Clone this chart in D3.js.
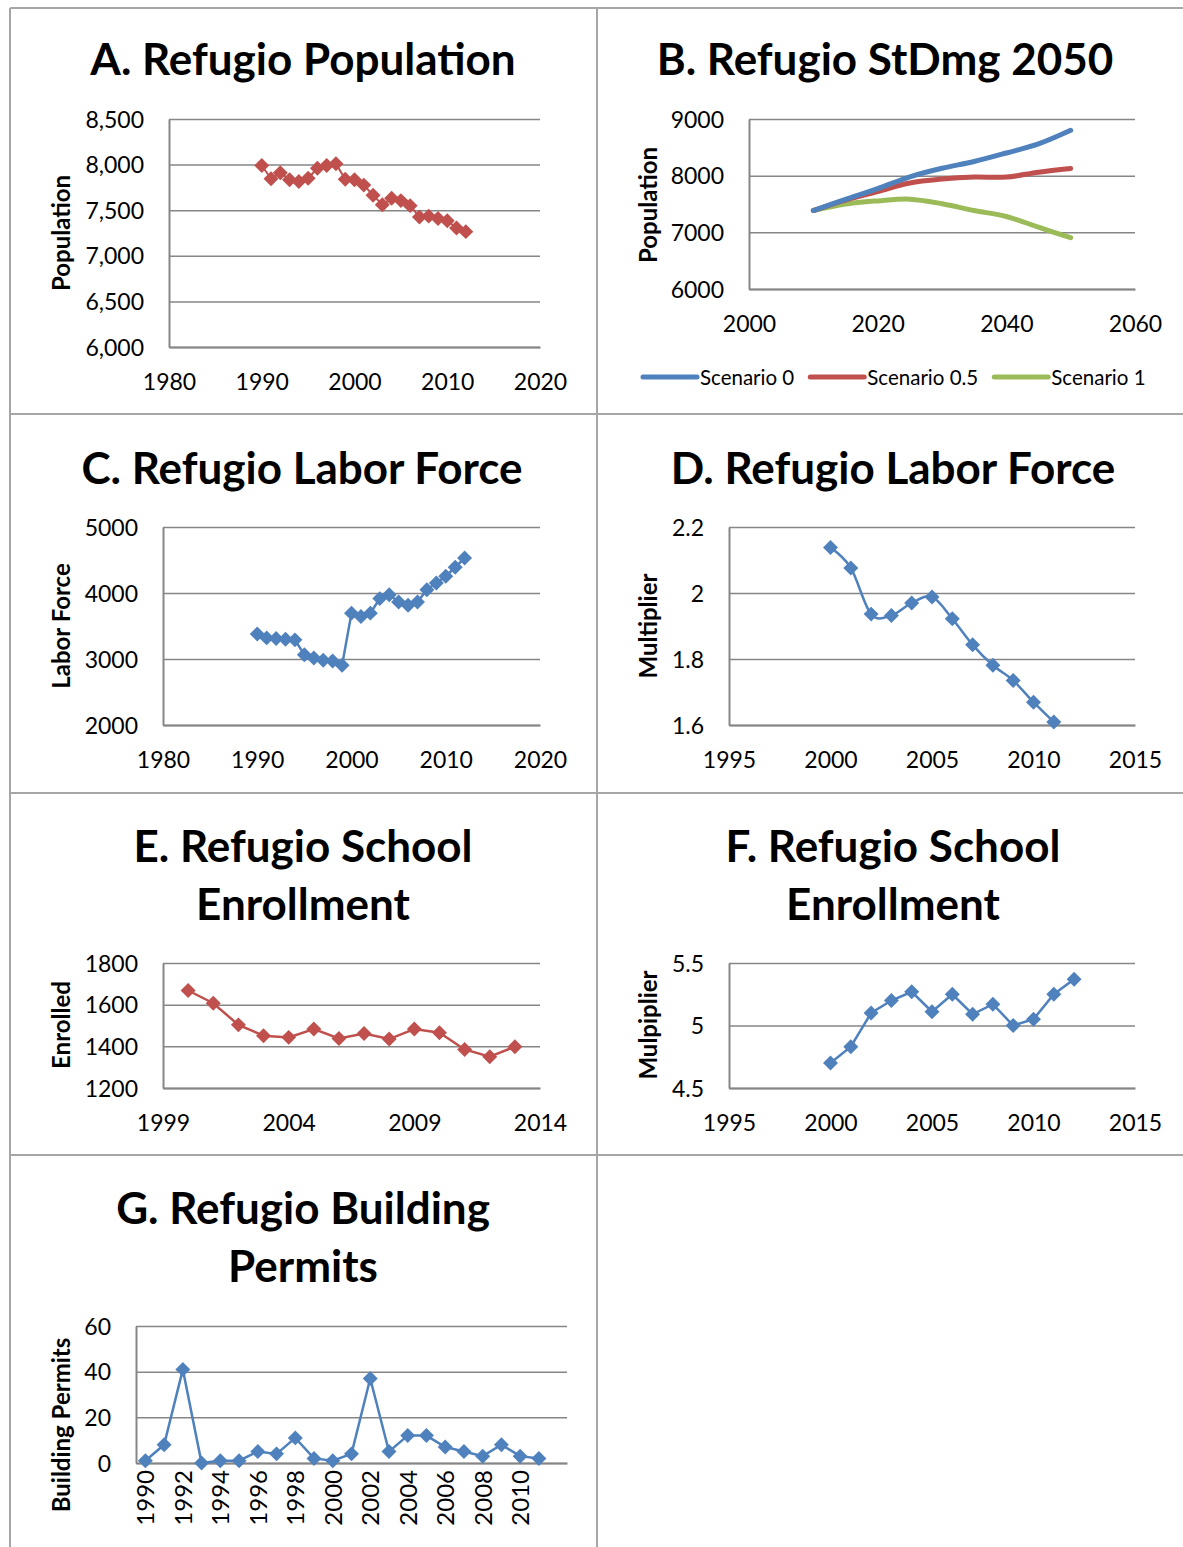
<!DOCTYPE html>
<html>
<head>
<meta charset="utf-8">
<script src="https://cdn.jsdelivr.net/npm/d3@7"></script>
<style>
  body { margin: 0; background: #fff; }
  svg { display: block; font-family: Lato, "Open Sans", sans-serif; }
</style>
</head>
<body>
<div id="chart"></div>
<script>
// A. population, 1990-2012
var popYears = [1990, 1991, 1992, 1993, 1994, 1995, 1996, 1997, 1998, 1999, 2000, 2001, 2002, 2003, 2004, 2005, 2006, 2007, 2008, 2009, 2010, 2011, 2012];
var popValues = [7990, 7845, 7910, 7835, 7815, 7850, 7960, 7990, 8010, 7840, 7835, 7775, 7665, 7560, 7630, 7605, 7550, 7425, 7435, 7410, 7385, 7305, 7265];

// B. projections to 2050
var scenYears = [2010, 2015, 2020, 2025, 2030, 2035, 2040, 2045, 2050];
var scenNames = ["Scenario 0", "Scenario 0.5", "Scenario 1"];
var scen0 = [7385, 7580, 7770, 7980, 8130, 8250, 8400, 8560, 8800];
var scen05 = [7385, 7570, 7720, 7870, 7940, 7975, 7975, 8060, 8125];
var scen1 = [7385, 7500, 7555, 7585, 7505, 7385, 7280, 7090, 6905];

// C. labor force
var laborYears = [1990, 1991, 1992, 1993, 1994, 1995, 1996, 1997, 1998, 1999, 2000, 2001, 2002, 2003, 2004, 2005, 2006, 2007, 2008, 2009, 2010, 2011, 2012];
var laborValues = [3380, 3320, 3310, 3300, 3290, 3065, 3015, 2980, 2970, 2905, 3695, 3645, 3695, 3915, 3975, 3865, 3815, 3865, 4050, 4150, 4255, 4390, 4530];

// D. labor force multiplier
var laborMultYears = [2000, 2001, 2002, 2003, 2004, 2005, 2006, 2007, 2008, 2009, 2010, 2011];
var laborMultValues = [2.138, 2.076, 1.936, 1.932, 1.970, 1.988, 1.922, 1.843, 1.781, 1.735, 1.669, 1.609];

// E. school enrollment
var enrollYears = [2000, 2001, 2002, 2003, 2004, 2005, 2006, 2007, 2008, 2009, 2010, 2011, 2012, 2013];
var enrollValues = [1668, 1607, 1503, 1451, 1443, 1483, 1438, 1462, 1435, 1483, 1465, 1385, 1350, 1398];

// F. enrollment multiplier
var enrollMultYears = [2000, 2001, 2002, 2003, 2004, 2005, 2006, 2007, 2008, 2009, 2010, 2011, 2012];
var enrollMultValues = [4.70, 4.83, 5.10, 5.20, 5.27, 5.11, 5.25, 5.09, 5.17, 5.00, 5.05, 5.25, 5.37];

// G. building permits
var permitYears = [1990, 1991, 1992, 1993, 1994, 1995, 1996, 1997, 1998, 1999, 2000, 2001, 2002, 2003, 2004, 2005, 2006, 2007, 2008, 2009, 2010, 2011];
var permitValues = [1, 8, 41, 0, 1, 1, 5, 4, 11, 2, 1, 4, 37, 5, 12, 12, 7, 5, 3, 8, 3, 2];
var permitTicks = [1990, 1992, 1994, 1996, 1998, 2000, 2002, 2004, 2006, 2008, 2010];

var blue = "#4f81bd", red = "#c0504d", green = "#9bbb59";
var gridColor = "#868686";

var width = 1183, height = 1547;

var svg = d3.select("#chart")
  .append("svg")
  .attr("width", width)
  .attr("height", height);

// table borders
var border = svg.append("g").attr("stroke", "#a6a6a6").attr("stroke-width", 2);
[[10, 8, 10, height], [597, 8, 597, height], [10, 8, width, 8],
 [10, 414, width, 414], [10, 793, width, 793], [10, 1155, width, 1155]].forEach(function (l) {
  border.append("line").attr("x1", l[0]).attr("y1", l[1]).attr("x2", l[2]).attr("y2", l[3]);
});

function zip(xs, ys) {
  return xs.map(function (d, i) { return { x: d, y: ys[i] }; });
}

var diamond = d3.symbol().type(d3.symbolSquare).size(112);

function panel(cfg) {
  var g = svg.append("g");
  var x = d3.scaleLinear().domain(cfg.xDomain).range([cfg.box[0], cfg.box[1]]);
  var y = d3.scaleLinear().domain(cfg.yDomain).range([cfg.box[3], cfg.box[2]]);

  // title
  cfg.title.forEach(function (t, i) {
    g.append("text")
      .attr("x", cfg.titleX)
      .attr("y", cfg.titleY + i * 58)
      .attr("text-anchor", "middle")
      .attr("dominant-baseline", "central")
      .style("font-size", "44px")
      .style("font-weight", "bold")
      .text(t);
  });

  // y axis + gridlines
  var yAxis = g.append("g")
    .attr("transform", "translate(" + cfg.box[0] + ",0)")
    .call(d3.axisLeft(y)
      .tickValues(cfg.yTicks)
      .tickSize(-(cfg.box[1] - cfg.box[0]))
      .tickSizeOuter(0)
      .tickPadding(25)
      .tickFormat(cfg.yFormat));
  yAxis.selectAll("line").attr("stroke", gridColor).attr("stroke-width", 1.5);
  yAxis.select(".domain").attr("stroke", gridColor).attr("stroke-width", 2);
  yAxis.selectAll("text")
    .attr("dy", "0.35em")
    .style("font-size", "23px")
    .style("fill", "#000")
    .style("font-family", "Lato, sans-serif");

  // x axis
  var xAxis = g.append("g")
    .attr("transform", "translate(0," + cfg.box[3] + ")")
    .call(d3.axisBottom(x)
      .tickValues(cfg.xTicks)
      .tickSize(0)
      .tickSizeOuter(0)
      .tickFormat(d3.format("d")));
  xAxis.select(".domain").attr("stroke", gridColor).attr("stroke-width", 2);
  var xt = xAxis.selectAll("text")
    .style("font-size", "23px")
    .style("fill", "#000")
    .style("font-family", "Lato, sans-serif");
  if (cfg.rotateX) {
    xt.attr("transform", "rotate(-90)")
      .attr("x", -7).attr("y", 0)
      .attr("dy", "0.35em")
      .attr("text-anchor", "end")
      .style("font-size", "24px");
  } else {
    xt.attr("y", 35).attr("dy", "0.35em");
  }

  // y axis title
  g.append("text")
    .attr("transform", "translate(" + cfg.yLabelPos[0] + "," + cfg.yLabelPos[1] + ") rotate(-90)")
    .attr("text-anchor", "middle")
    .attr("dominant-baseline", "central")
    .style("font-size", "24px")
    .style("font-weight", "bold")
    .text(cfg.yLabel);

  // series
  cfg.series.forEach(function (s) {
    var line = d3.line()
      .x(function (d) { return x(d.x); })
      .y(function (d) { return y(d.y); })
      .curve(s.smooth ? d3.curveCatmullRom.alpha(0) : d3.curveLinear);
    g.append("path")
      .datum(s.data)
      .attr("fill", "none")
      .attr("stroke", s.color)
      .attr("stroke-width", s.width)
      .attr("stroke-linecap", "round")
      .attr("d", line);
    if (s.markers) {
      g.append("g")
        .selectAll("path")
        .data(s.data)
        .enter().append("path")
        .attr("d", diamond)
        .attr("fill", s.color)
        .attr("transform", function (d) {
          return "translate(" + x(d.x) + "," + y(d.y) + ") rotate(45)";
        });
    }
  });

  return { x: x, y: y, g: g };
}

panel({
  title: ["A. Refugio Population"], titleX: 303, titleY: 58,
  box: [169, 540, 119, 347],
  xDomain: [1980, 2020], xTicks: [1980, 1990, 2000, 2010, 2020],
  yDomain: [6000, 8500], yTicks: [6000, 6500, 7000, 7500, 8000, 8500], yFormat: d3.format(","),
  yLabel: "Population", yLabelPos: [60, 233],
  series: [{ data: zip(popYears, popValues), color: red, width: 2, markers: true }]
});

var pb = panel({
  title: ["B. Refugio StDmg 2050"], titleX: 885, titleY: 58,
  box: [749, 1135, 119, 289],
  xDomain: [2000, 2060], xTicks: [2000, 2020, 2040, 2060],
  yDomain: [6000, 9000], yTicks: [6000, 7000, 8000, 9000], yFormat: d3.format("d"),
  yLabel: "Population", yLabelPos: [647, 205],
  series: [
    { data: zip(scenYears, scen1), color: green, width: 5, smooth: true },
    { data: zip(scenYears, scen05), color: red, width: 5, smooth: true },
    { data: zip(scenYears, scen0), color: blue, width: 5, smooth: true }
  ]
});

// legend for B
var legendColors = [blue, red, green];
var lx = 643;
scenNames.forEach(function (name, i) {
  pb.g.append("line")
    .attr("x1", lx).attr("x2", lx + 54)
    .attr("y1", 377).attr("y2", 377)
    .attr("stroke", legendColors[i])
    .attr("stroke-width", 5)
    .attr("stroke-linecap", "round");
  var t = pb.g.append("text")
    .attr("x", lx + 57)
    .attr("y", 377)
    .attr("dominant-baseline", "central")
    .style("font-size", "20.5px")
    .text(name);
  lx = lx + 57 + t.node().getComputedTextLength() + 16;
});

panel({
  title: ["C. Refugio Labor Force"], titleX: 302, titleY: 467,
  box: [163, 540, 527, 725],
  xDomain: [1980, 2020], xTicks: [1980, 1990, 2000, 2010, 2020],
  yDomain: [2000, 5000], yTicks: [2000, 3000, 4000, 5000], yFormat: d3.format("d"),
  yLabel: "Labor Force", yLabelPos: [60, 626],
  series: [{ data: zip(laborYears, laborValues), color: blue, width: 2.5, markers: true }]
});

panel({
  title: ["D. Refugio Labor Force"], titleX: 893, titleY: 467,
  box: [729, 1135, 527, 725],
  xDomain: [1995, 2015], xTicks: [1995, 2000, 2005, 2010, 2015],
  yDomain: [1.6, 2.2], yTicks: [1.6, 1.8, 2, 2.2], yFormat: function (d) { return String(d); },
  yLabel: "Multiplier", yLabelPos: [647, 626],
  series: [{ data: zip(laborMultYears, laborMultValues), color: blue, width: 2.5, markers: true, smooth: true }]
});

panel({
  title: ["E. Refugio School", "Enrollment"], titleX: 303, titleY: 845,
  box: [163, 540, 963, 1088],
  xDomain: [1999, 2014], xTicks: [1999, 2004, 2009, 2014],
  yDomain: [1200, 1800], yTicks: [1200, 1400, 1600, 1800], yFormat: d3.format("d"),
  yLabel: "Enrolled", yLabelPos: [60, 1025],
  series: [{ data: zip(enrollYears, enrollValues), color: red, width: 2.5, markers: true }]
});

panel({
  title: ["F. Refugio School", "Enrollment"], titleX: 893, titleY: 845,
  box: [729, 1135, 963, 1088],
  xDomain: [1995, 2015], xTicks: [1995, 2000, 2005, 2010, 2015],
  yDomain: [4.5, 5.5], yTicks: [4.5, 5, 5.5], yFormat: function (d) { return String(d); },
  yLabel: "Mulpiplier", yLabelPos: [647, 1025],
  series: [{ data: zip(enrollMultYears, enrollMultValues), color: blue, width: 2.5, markers: true }]
});

panel({
  title: ["G. Refugio Building", "Permits"], titleX: 303, titleY: 1207,
  box: [136, 567, 1326, 1463],
  xDomain: [1989.5, 2012.5], xTicks: permitTicks, rotateX: true,
  yDomain: [0, 60], yTicks: [0, 20, 40, 60], yFormat: d3.format("d"),
  yLabel: "Building Permits", yLabelPos: [60, 1425],
  series: [{ data: zip(permitYears, permitValues), color: blue, width: 2.5, markers: true }]
});
</script>
</body>
</html>
